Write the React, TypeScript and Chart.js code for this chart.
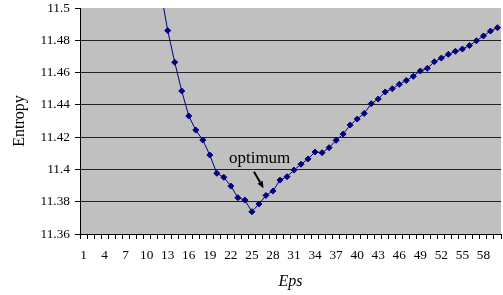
import React, { useEffect, useRef } from 'react';
import { Chart, registerables } from 'chart.js';

Chart.register(...registerables);

const categories = [
  '1', '2', '3', '4', '5', '6', '7', '8', '9', '10',
  '11', '12', '13', '14', '15', '16', '17', '18', '19', '20',
  '21', '22', '23', '24', '25', '26', '27', '28', '29', '30',
  '31', '32', '33', '34', '35', '36', '37', '38', '39', '40',
  '41', '42', '43', '44', '45', '46', '47', '48', '49', '50',
  '51', '52', '53', '54', '55', '56', '57', '58', '59', '60',
];

const shownTicks = [
  '1', '4', '7', '10', '13', '16', '19', '22', '25', '28',
  '31', '34', '37', '40', '43', '46', '49', '52', '55', '58',
];

const entropy = [
  12.25, 12.12, 12.01, 11.92, 11.84, 11.77, 11.71, 11.66, 11.615, 11.575,
  11.54, 11.5107, 11.486, 11.4664, 11.4486, 11.4331, 11.4244, 11.4182, 11.4089, 11.3976,
  11.3951, 11.3897, 11.3825, 11.381, 11.3738, 11.3786, 11.3839, 11.3866, 11.3934, 11.3955,
  11.3996, 11.4032, 11.4065, 11.4108, 11.4104, 11.4135, 11.418, 11.4219, 11.4275, 11.4312,
  11.4347, 11.4407, 11.4436, 11.448, 11.45, 11.4527, 11.4551, 11.4577, 11.461, 11.4626,
  11.4667, 11.469, 11.4713, 11.4732, 11.4746, 11.4767, 11.4797, 11.4827, 11.4857, 11.4878,
];

const yMin = 11.36;
const yMax = 11.5;
const yStep = 0.02;

// annotation in data coordinates (category index, value)
const noteText = 'optimum';
const notePos = { x: 25.1, y: 11.4037 };
const arrowFrom = { x: 24.3, y: 11.3986 };
const arrowTo = { x: 25.66, y: 11.3883 };

const FONT = "'Liberation Serif', 'Times New Roman', serif";

const bgPlugin = {
  id: 'plotBg',
  beforeDraw(chart: any) {
    const { ctx, chartArea: a } = chart;
    ctx.save();
    ctx.fillStyle = '#c0c0c0';
    ctx.fillRect(a.left, a.top, a.right - a.left, a.bottom - a.top);
    ctx.restore();
  },
};

const notePlugin = {
  id: 'note',
  afterDatasetsDraw(chart: any) {
    const { ctx, scales } = chart;
    const xs = scales.x;
    const ys = scales.y;
    ctx.save();
    ctx.fillStyle = '#000';
    ctx.font = `17px ${FONT}`;
    ctx.textAlign = 'center';
    ctx.textBaseline = 'alphabetic';
    ctx.fillText(noteText, xs.getPixelForValue(notePos.x), ys.getPixelForValue(notePos.y));
    const x1 = xs.getPixelForValue(arrowFrom.x);
    const y1 = ys.getPixelForValue(arrowFrom.y);
    const x2 = xs.getPixelForValue(arrowTo.x);
    const y2 = ys.getPixelForValue(arrowTo.y);
    const ang = Math.atan2(y2 - y1, x2 - x1);
    const hl = 7;
    const hw = 3;
    const bx = x2 - hl * Math.cos(ang);
    const by = y2 - hl * Math.sin(ang);
    ctx.strokeStyle = '#000';
    ctx.lineWidth = 2;
    ctx.beginPath();
    ctx.moveTo(x1, y1);
    ctx.lineTo(bx, by);
    ctx.stroke();
    ctx.beginPath();
    ctx.moveTo(x2, y2);
    ctx.lineTo(bx + hw * Math.sin(ang), by - hw * Math.cos(ang));
    ctx.lineTo(bx - hw * Math.sin(ang), by + hw * Math.cos(ang));
    ctx.closePath();
    ctx.fill();
    ctx.restore();
  },
};

export default function App() {
  const ref = useRef<HTMLCanvasElement | null>(null);

  useEffect(() => {
    if (!ref.current) return;
    const chart = new Chart(ref.current, {
      type: 'line',
      data: {
        labels: categories,
        datasets: [
          {
            data: entropy,
            borderColor: '#000080',
            backgroundColor: '#000080',
            borderWidth: 1,
            pointStyle: 'rectRot',
            pointRadius: 3,
            pointBorderWidth: 1,
            pointBorderColor: '#000080',
            pointBackgroundColor: '#000080',
            tension: 0,
            fill: false,
          },
        ],
      },
      options: {
        responsive: false,
        animation: false,
        layout: { padding: { left: 0, top: 8, right: 1, bottom: 0 } },
        plugins: {
          legend: { display: false },
          tooltip: { enabled: false },
        },
        scales: {
          x: {
            type: 'category',
            offset: true,
            afterFit(s: any) {
              s.height = 61;
              s.paddingLeft = 0;
              s.paddingRight = 0;
            },
            ticks: {
              autoSkip: false,
              maxRotation: 0,
              minRotation: 0,
              color: '#000',
              padding: 8,
              font: { family: FONT, size: 13.33 },
              callback(_v: any, i: number) {
                const l = categories[i];
                return shownTicks.includes(l) ? l : '';
              },
            },
            grid: {
              offset: true,
              drawOnChartArea: false,
              drawTicks: true,
              tickLength: 5,
              color: '#000',
            },
            border: { color: '#000', width: 1 },
            title: {
              display: true,
              text: 'Eps',
              color: '#000',
              font: { family: FONT, size: 16, style: 'italic' },
              padding: { top: 0, bottom: 4 },
            },
          },
          y: {
            min: yMin,
            max: yMax,
            afterFit(s: any) {
              s.width = 80;
              s.paddingTop = 0;
              s.paddingBottom = 0;
            },
            ticks: {
              stepSize: yStep,
              color: '#000',
              padding: 5,
              font: { family: FONT, size: 13.33 },
              callback(v: any) {
                return String(Math.round(Number(v) * 100) / 100);
              },
            },
            grid: {
              color(c: any) {
                return c.tick && Math.abs(c.tick.value - yMax) < 1e-6 ? 'rgba(0,0,0,0)' : '#222';
              },
              tickColor: '#000',
              tickLength: 5,
              drawTicks: true,
            },
            border: { color: '#000', width: 1 },
            title: {
              display: true,
              text: 'Entropy',
              color: '#000',
              font: { family: FONT, size: 16 },
              padding: { top: 10, bottom: 0 },
            },
          },
        },
      },
      plugins: [bgPlugin, notePlugin],
    });
    return () => chart.destroy();
  }, []);

  return (
    <div
      style={{
        position: 'fixed',
        left: 0,
        top: 0,
        width: 503,
        height: 295,
        overflow: 'hidden',
        background: '#fff',
      }}
    >
      <canvas ref={ref} width={506} height={295} style={{ display: 'block' }} />
    </div>
  );
}
